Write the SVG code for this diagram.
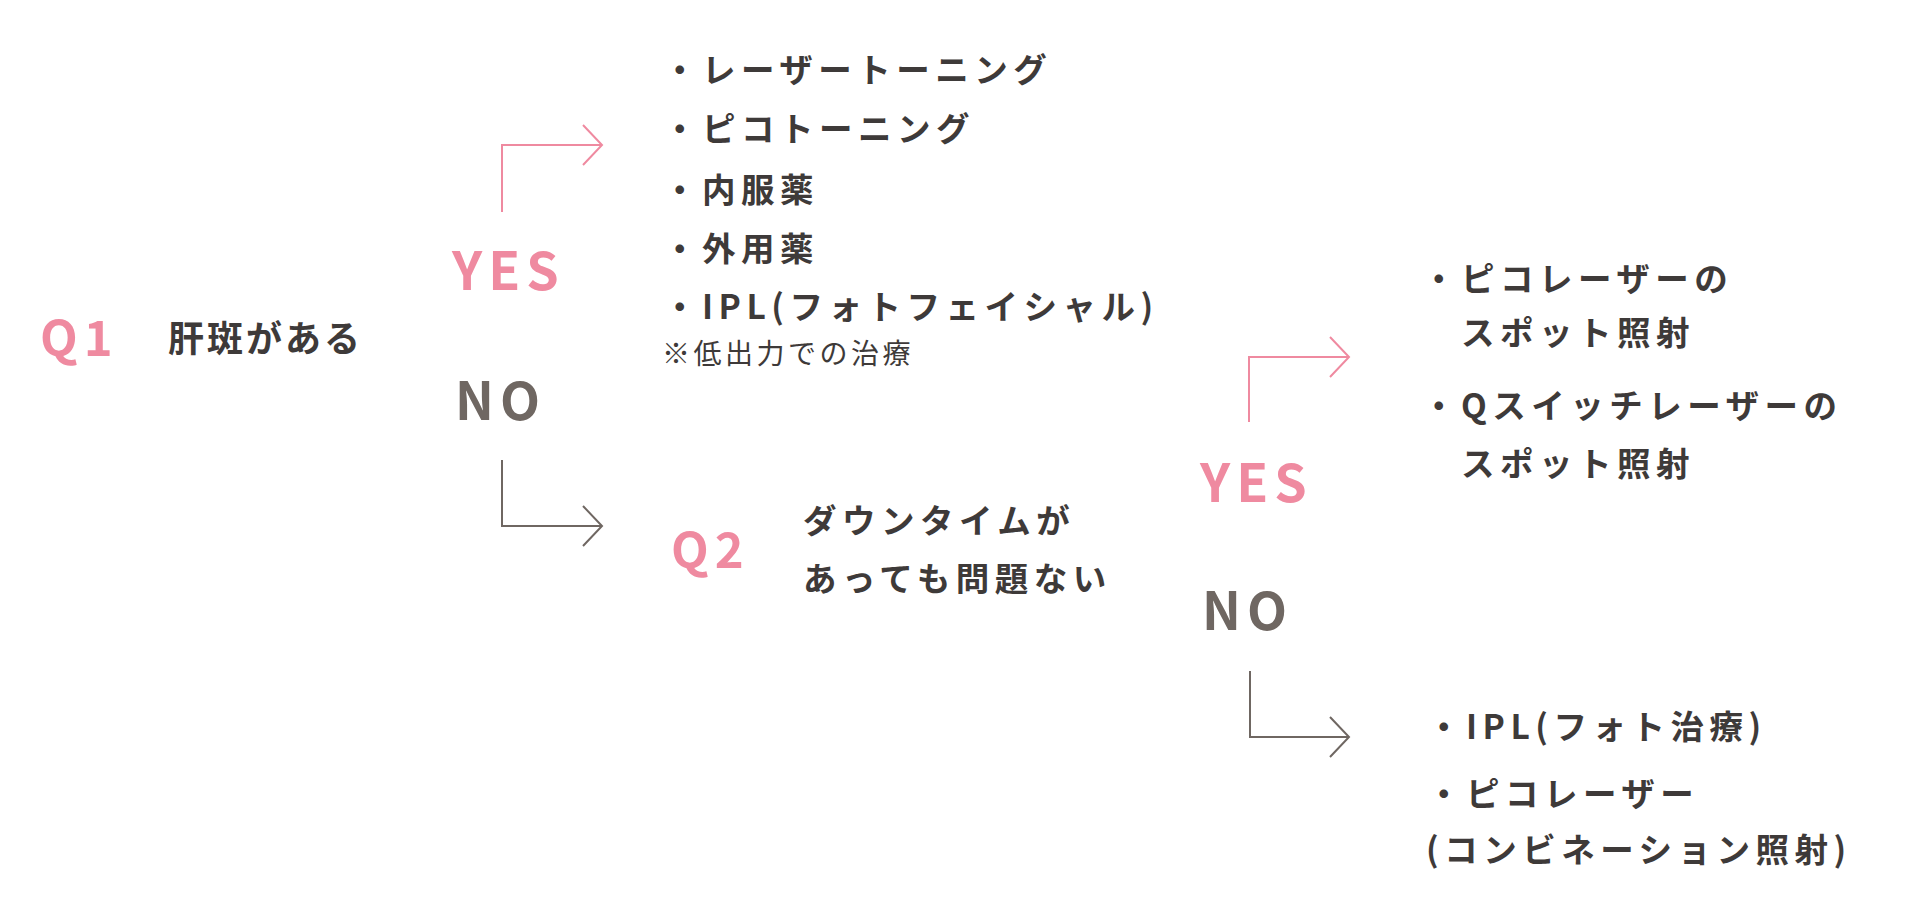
<svg xmlns="http://www.w3.org/2000/svg" width="1921" height="911" viewBox="0 0 1921 911">
<style>
  text { font-family: "Noto Sans CJK JP", "Noto Sans", sans-serif; font-weight: 700; }
  .q { fill: #ef8aa0; font-size: 49px; letter-spacing: 6px; }
  .yes { fill: #ef8aa0; font-size: 52px; letter-spacing: 6px; }
  .no { fill: #6f6762; font-size: 52px; letter-spacing: 6px; }
  .t { fill: #3e3a39; font-size: 33.5px; letter-spacing: 5.5px; }
  .q1t { fill: #3e3a39; font-size: 36px; letter-spacing: 3px; }
  .note { fill: #3e3a39; font-size: 28px; font-weight: 400; letter-spacing: 3.5px; }
  .pk { stroke: #ef8aa0; stroke-width: 2; fill: none; }
  .gy { stroke: #6f6762; stroke-width: 2; fill: none; }
</style>
<defs>
  <marker id="ap" markerUnits="userSpaceOnUse" markerWidth="30" markerHeight="50" refX="22" refY="22" orient="auto" overflow="visible">
    <path d="M3,2 L22,22 L3,42" stroke="#ef8aa0" stroke-width="2" fill="none"/>
  </marker>
  <marker id="ag" markerUnits="userSpaceOnUse" markerWidth="30" markerHeight="50" refX="22" refY="22" orient="auto" overflow="visible">
    <path d="M3,2 L22,22 L3,42" stroke="#6f6762" stroke-width="2" fill="none"/>
  </marker>
</defs>
<rect width="1921" height="911" fill="#ffffff"/>

<g id="connectors">
  <path class="pk" d="M502,212 V145 H602" marker-end="url(#ap)"/>
  <path class="gy" d="M502,460 V526 H602" marker-end="url(#ag)"/>
  <path class="pk" d="M1249,422 V357 H1349" marker-end="url(#ap)"/>
  <path class="gy" d="M1250,671 V737 H1349" marker-end="url(#ag)"/>
</g>

<g id="q1">
  <text class="q" x="40" y="356">Q1</text>
  <text class="q1t" x="168" y="352">肝斑がある</text>
</g>

<g id="yes1"><text class="yes" x="452" y="290">YES</text></g>
<g id="no1"><text class="no" x="455" y="420">NO</text></g>

<g id="result1">
  <text class="t" x="663" y="82">・レーザートーニング</text>
  <text class="t" x="663" y="141">・ピコトーニング</text>
  <text class="t" x="663" y="202">・内服薬</text>
  <text class="t" x="663" y="261">・外用薬</text>
  <text class="t" x="663" y="319">・IPL(フォトフェイシャル)</text>
  <text class="note" x="662" y="364">※低出力での治療</text>
</g>

<g id="q2">
  <text class="q" x="671" y="568">Q2</text>
  <text class="t" x="803" y="533">ダウンタイムが</text>
  <text class="t" x="803" y="591">あっても問題ない</text>
</g>

<g id="yes2"><text class="yes" x="1200" y="502">YES</text></g>
<g id="no2"><text class="no" x="1202" y="630">NO</text></g>

<g id="result2">
  <text class="t" x="1422" y="291">・ピコレーザーの</text>
  <text class="t" x="1461" y="345">スポット照射</text>
  <text class="t" x="1422" y="418">・Qスイッチレーザーの</text>
  <text class="t" x="1461" y="476">スポット照射</text>
</g>

<g id="result3">
  <text class="t" x="1427" y="739">・IPL(フォト治療)</text>
  <text class="t" x="1427" y="806">・ピコレーザー</text>
  <text class="t" x="1426" y="862">(コンビネーション照射)</text>
</g>
</svg>
